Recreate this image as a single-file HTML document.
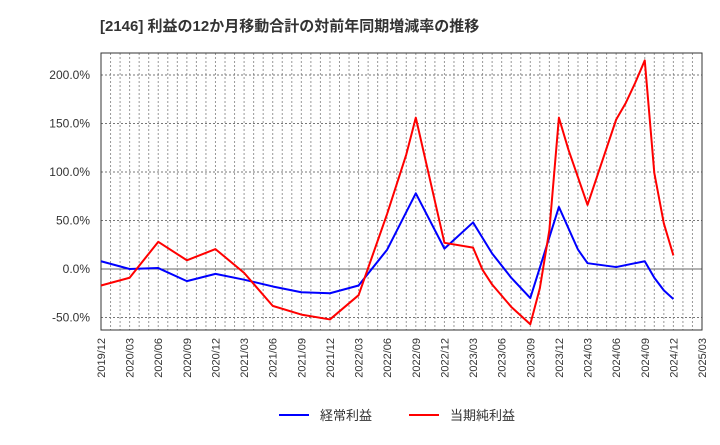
<!DOCTYPE html>
<html><head><meta charset="utf-8"><style>
body{margin:0;background:#fff;font-family:"Liberation Sans","Noto Sans CJK JP",sans-serif;}
</style></head><body>
<svg id="c" width="720" height="440" xmlns="http://www.w3.org/2000/svg" font-family="Liberation Sans, Noto Sans CJK JP, sans-serif">
<text x="100" y="31" font-size="15" font-weight="bold" fill="#333">[2146]  利益の12か月移動合計の対前年同期増減率の推移</text>
<g id="grid"></g><g id="axes"></g><g id="series"></g>
<g>
<line x1="279" y1="415" x2="309" y2="415" stroke="#0000ff" stroke-width="2"/>
<text x="320" y="420" font-size="13" fill="#333">経常利益</text>
<line x1="409" y1="415" x2="439" y2="415" stroke="#ff0000" stroke-width="2"/>
<text x="450" y="420" font-size="13" fill="#333">当期純利益</text>
</g>
</svg>
<script>
const xLabels=["2019/12","2020/03","2020/06","2020/09","2020/12","2021/03","2021/06","2021/09","2021/12","2022/03","2022/06","2022/09","2022/12","2023/03","2023/06","2023/09","2023/12","2024/03","2024/06","2024/09","2024/12","2025/03"];
const yTicks=[-50,0,50,100,150,200];
const blueMonths=[0,3,6,9,12,15,18,21,24,27,30,33,36,39,41,43,45,48,50,51,54,57,58,59,60];
const blueValues=[8,0,1,-12.5,-5,-11,-18,-24,-25,-17,20,78,21,48,16,-9,-30,64,20,6,2,8,-9,-22,-31];
const redMonths=[0,3,6,9,12,15,18,21,24,27,30,32,33,36,39,40,41,43,45,46,47,48,49,51,54,55,56,57,58,59,60];
const redValues=[-17,-9,28,9,20.5,-4,-38,-47,-52,-27,57,118,156,27,22,-1,-16,-39,-57,-20,40,156,123,66,154,171,192,215,99,47,14];
const L=101,R=702,T=53,B=330;
const xm=m=>L+m*(R-L)/63;
const ys=v=>269-v*0.97;
const NS="http://www.w3.org/2000/svg";
function mk(p,t,a){const e=document.createElementNS(NS,t);for(const k in a)e.setAttribute(k,a[k]);p.appendChild(e);return e;}
const g=document.getElementById('grid'),ax=document.getElementById('axes'),s=document.getElementById('series');
for(let m=1;m<63;m++){const l=mk(g,'line',{x1:xm(m),x2:xm(m),y1:T,y2:B,stroke:'#999','stroke-dasharray':'2,2','stroke-width':1});

}
for(let v=-50;v<=225;v+=50){if(v===0)continue;const y=ys(v);if(y<T)continue;const l=mk(g,'line',{x1:L,x2:R,y1:y,y2:y,stroke:'#777','stroke-dasharray':'2,2','stroke-width':1});

}
const z=mk(g,'line',{x1:L,x2:R,y1:ys(0),y2:ys(0),stroke:'#666','stroke-width':1});


const fr=mk(ax,'rect',{x:L,y:T,width:R-L,height:B-T,fill:'none',stroke:'#333','stroke-width':1});


yTicks.forEach(v=>{const t=mk(ax,'text',{x:90,y:ys(v)+4,'font-size':12,'text-anchor':'end',fill:'#333'});t.textContent=v.toFixed(1)+'%';

});
xLabels.forEach((lb,i)=>{const x=xm(i*3)+4;const t=mk(ax,'text',{x:x,y:338,'font-size':11,'text-anchor':'end',fill:'#333',transform:`rotate(-90 ${x} 338)`});t.textContent=lb;

});
function line(ms,vs,c,n){const p=mk(s,'polyline',{points:ms.map((m,i)=>xm(m)+','+ys(vs[i])).join(' '),fill:'none',stroke:c,'stroke-width':2,'stroke-linejoin':'round'});

}
line(blueMonths,blueValues,'#0000ff','keijo-line');
line(redMonths,redValues,'#ff0000','junri-line');
</script>
</body></html>
